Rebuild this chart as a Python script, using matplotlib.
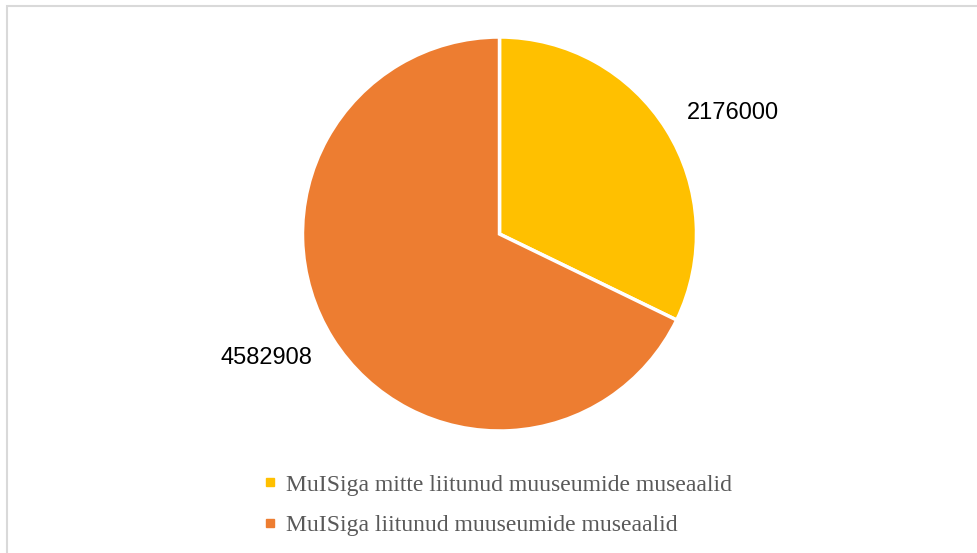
import matplotlib
matplotlib.use("Agg")
import matplotlib.pyplot as plt
from matplotlib.lines import Line2D
from matplotlib.patches import Rectangle

categories = [
    "MuISiga mitte liitunud muuseumide museaalid",
    "MuISiga liitunud muuseumide museaalid",
]
values = [2176000, 4582908]
colors = ["#FFC000", "#ED7D31"]

W, H = 978, 553
fig = plt.figure(figsize=(W / 100, H / 100), dpi=100)
ax = fig.add_axes([0, 0, 1, 1])

# chart area border (cut off by the image edges on right/bottom)
ax.add_patch(Rectangle((7, -10), W + 20, H - 5.5 + 10, fill=False,
                       edgecolor="#d9d9d9", linewidth=1.5))

cx, cy, r = 499.5, H - 234, 197
wedges, _ = ax.pie(values, colors=colors, startangle=90, counterclock=False,
                   center=(cx, cy), radius=r, frame=True,
                   wedgeprops=dict(edgecolor="white", linewidth=2.5))
ax.set_xlim(0, W)
ax.set_ylim(0, H)
ax.set_aspect("equal")
ax.axis("off")

# data labels
label_pos = [(733, H - 113), (266, H - 358)]
for (x, y), v in zip(label_pos, values):
    ax.text(x, y, f"{v}", ha="center", va="center", fontsize=17,
            family="Liberation Sans", color="black")

handles = [Line2D([], [], linestyle="none", marker="s", markersize=5.5,
                  markerfacecolor=c, markeredgecolor=c) for c in colors]
leg = fig.legend(handles, categories, loc="upper left",
                 bbox_to_anchor=(264 / W, 1 - 474 / H), frameon=False,
                 prop={"family": "Liberation Serif", "size": 17},
                 handlelength=0.5, handletextpad=0.45, labelspacing=0.82,
                 borderaxespad=0, borderpad=0)
for t in leg.get_texts():
    t.set_color("#595959")

fig.savefig("out.png", dpi=100)
